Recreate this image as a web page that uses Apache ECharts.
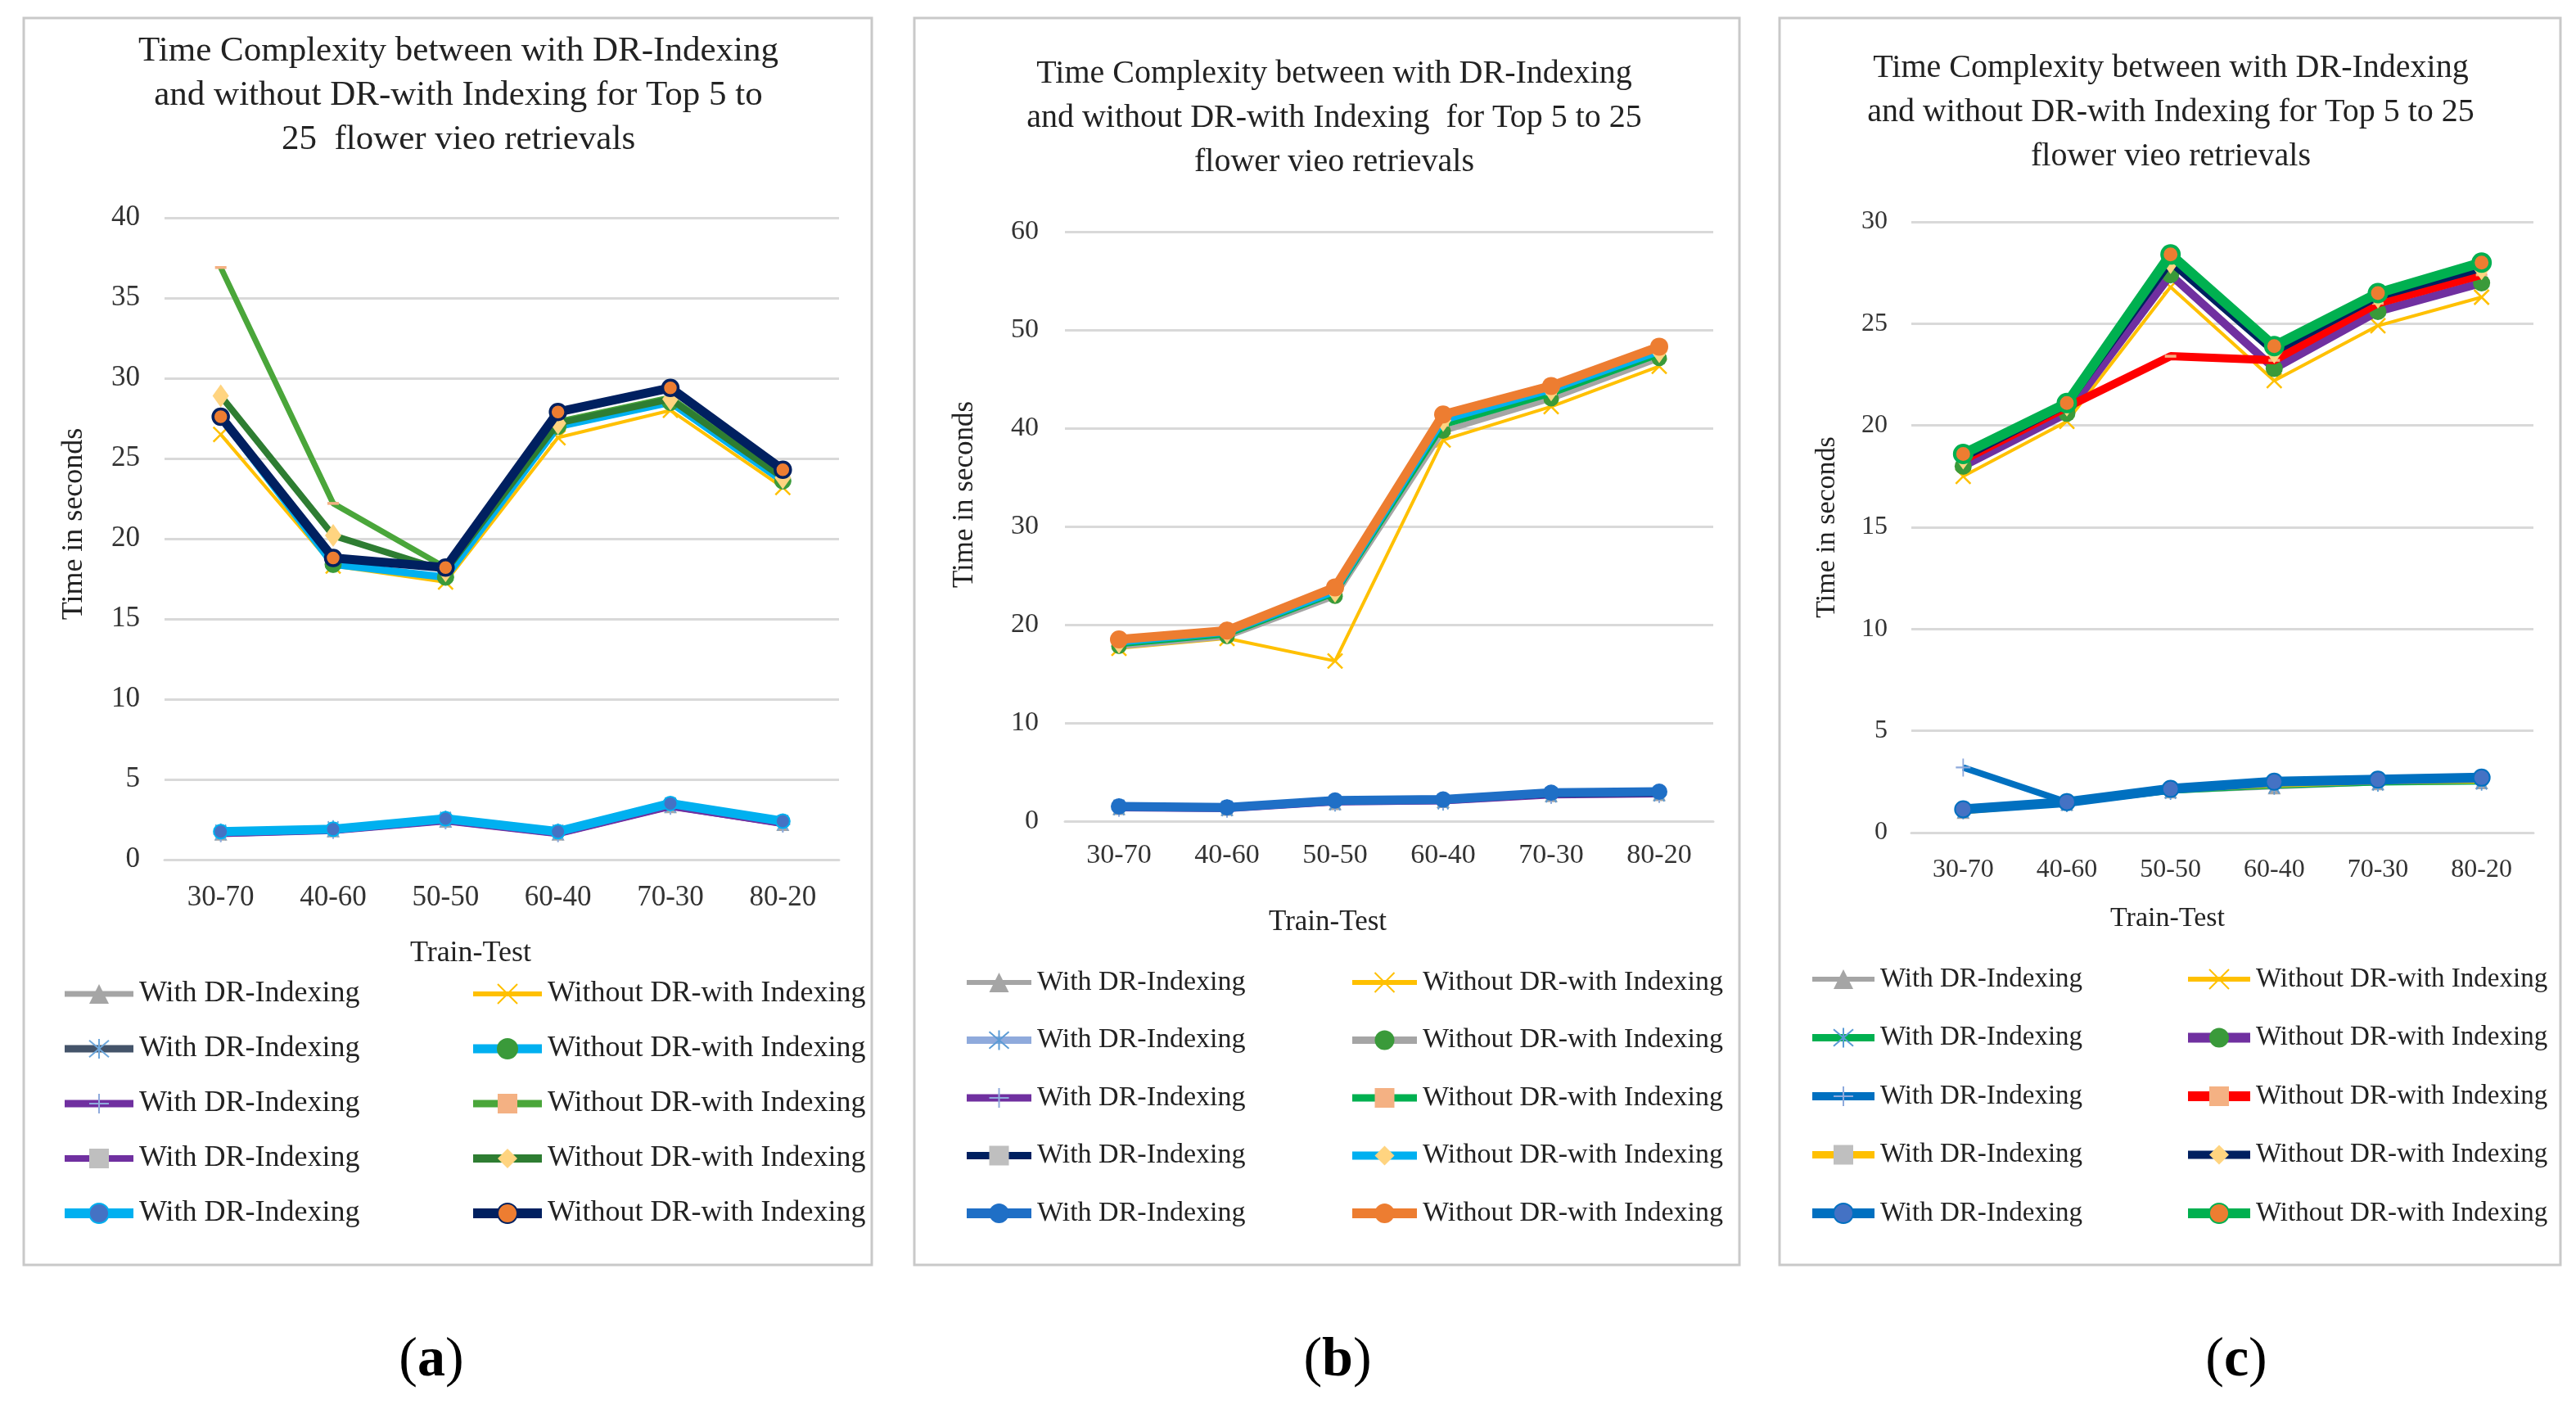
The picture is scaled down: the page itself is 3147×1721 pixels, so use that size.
<!DOCTYPE html>
<html><head><meta charset="utf-8">
<script src="https://cdn.jsdelivr.net/npm/echarts@6/dist/echarts.min.js"></script>
<style>html,body{margin:0;padding:0;background:#fff}#c{width:3147px;height:1721px}</style>
</head><body><div id="c"></div>
<script>
// ---------- data ----------
const categories = ['30-70', '40-60', '50-50', '60-40', '70-30', '80-20'];
const withName = 'With DR-Indexing';
const withoutName = 'Without DR-with Indexing';
const titleA = 'Time Complexity between with DR-Indexing\nand without DR-with Indexing for Top 5 to\n25  flower vieo retrievals';
const titleB = 'Time Complexity between with DR-Indexing\nand without DR-with Indexing  for Top 5 to 25\nflower vieo retrievals';
const titleC = 'Time Complexity between with DR-Indexing\nand without DR-with Indexing for Top 5 to 25\nflower vieo retrievals';
const yNameText = 'Time in seconds';
const xNameText = 'Train-Test';
const panelLabels = ['a', 'b', 'c'];
const yMaxA = 40, yStepA = 5;
const yMaxB = 60, yStepB = 10;
const yMaxC = 30, yStepC = 5;

// panel (a)
const aWith1 = [1.6, 1.8, 2.4, 1.6, 3.3, 2.2];
const aWithout1 = [26.5, 18.3, 17.3, 26.3, 28.0, 23.2];
const aWith2 = [1.7, 1.9, 2.5, 1.7, 3.4, 2.3];
const aWithout2 = [27.6, 18.4, 17.6, 27.0, 28.5, 23.6];
const aWith3 = [1.6, 1.8, 2.4, 1.6, 3.3, 2.2];
const aWithout3 = [36.9, 22.2, 18.2, 27.3, 28.8, 23.9];
const aWith4 = [1.55, 1.75, 2.35, 1.55, 3.25, 2.2];
const aWithout4 = [28.9, 20.2, 18.0, 27.2, 28.7, 23.8];
const aWith5 = [1.75, 1.9, 2.55, 1.75, 3.5, 2.4];
const aWithout5 = [27.6, 18.8, 18.2, 27.9, 29.4, 24.3];

// panel (b)
const bWith1 = [1.3, 1.2, 1.8, 2.0, 2.6, 2.7];
const bWithout1 = [17.6, 18.6, 16.3, 38.8, 42.2, 46.3];
const bWith2 = [1.4, 1.3, 1.9, 2.0, 2.7, 2.8];
const bWithout2 = [17.8, 18.8, 22.9, 39.7, 43.0, 47.1];
const bWith3 = [1.3, 1.2, 1.9, 2.0, 2.6, 2.7];
const bWithout3 = [18.0, 19.0, 23.2, 40.3, 43.5, 47.5];
const bWith4 = [1.4, 1.3, 2.0, 2.1, 2.7, 2.8];
const bWithout4 = [18.2, 19.2, 23.4, 40.8, 43.9, 47.8];
const bWith5 = [1.5, 1.4, 2.1, 2.2, 2.9, 3.0];
const bWithout5 = [18.5, 19.4, 23.8, 41.4, 44.3, 48.3];

// panel (c)
const cWith1 = [1.0, 1.4, 2.0, 2.2, 2.4, 2.45];
const cWithout1 = [17.5, 20.2, 26.8, 22.2, 24.9, 26.3];
const cWith2 = [1.1, 1.45, 2.05, 2.3, 2.45, 2.5];
const cWithout2 = [18.0, 20.6, 27.4, 22.8, 25.6, 27.0];
const cWith3 = [3.2, 1.5, 2.1, 2.45, 2.55, 2.65];
const cWithout3 = [18.3, 20.9, 23.4, 23.2, 26.0, 27.4];
const cWith4 = [1.05, 1.45, 2.1, 2.35, 2.5, 2.55];
const cWithout4 = [18.4, 21.0, 28.0, 23.6, 26.3, 27.7];
const cWith5 = [1.15, 1.5, 2.15, 2.5, 2.6, 2.7];
const cWithout5 = [18.6, 21.1, 28.4, 23.9, 26.5, 28.0];

// ---------- styles ----------
const FONT = '"Liberation Serif", "Times New Roman", serif';
const SYM = {
  tri: 'triangle',
  x: 'path://M0,0L10,10M10,0L0,10',
  star: 'path://M0,0L10,12M10,0L0,12M5,-1L5,13',
  plus: 'path://M5,0L5,10M0,5L10,5',
  dash: 'path://M0,0L10,0L10,5L0,5Z',
  circle: 'circle',
  diamond: 'diamond'
};
const T = 'rgba(0,0,0,0)';
function st(line, w, sym, size, fill, stroke, bw) {
  return { line, w, sym, size, fill, stroke: stroke || fill, bw: bw || 0 };
}
const panels = [
  {
    title: titleA, titleX: 560, titleTop: 36, titleSize: 43,
    grid: { left: 201, top: 266, width: 824, height: 784 },
    yMax: yMaxA, yStep: yStepA, tick: 35, yMargin: 30, xMargin: 29,
    yGap: 92, yPad: [0, 0, 0, 36], xGap: 97, xPad: [0, 76, 0, 0], nameSize: 36,
    legL: 73, legR: 572, legTop: 1194, legGap: 27, legW: 84, legFont: 36,
    series: [
      [aWith1, st('#A5A5A5', 5, SYM.tri, 16, '#A5A5A5')],
      [aWithout1, st('#FFC000', 4, SYM.x, [18, 18], T, '#FFC000', 2.5)],
      [aWith2, st('#44546A', 7, SYM.star, [18, 22], T, '#6FA8DC', 2)],
      [aWithout2, st('#00B0F0', 9, SYM.circle, 20, '#3A9A3A', '#3A9A3A', 1)],
      [aWith3, st('#7030A0', 7, SYM.plus, [18, 20], T, '#8FAADC', 2)],
      [aWithout3, st('#4AA63A', 7, SYM.dash, [14, 7], '#F4B183')],
      [aWith4, st('#7030A0', 6, SYM.dash, [14, 7], '#BFBFBF')],
      [aWithout4, st('#2E7D32', 8, SYM.diamond, [20, 28], '#FFD480')],
      [aWith5, st('#00B0F0', 11, SYM.circle, 17, '#4472C4', '#00B0F0', 2)],
      [aWithout5, st('#002060', 11, SYM.circle, 19, '#ED7D31', '#002060', 3.5)]
    ]
  },
  {
    title: titleB, titleX: 1630, titleTop: 63, titleSize: 40,
    grid: { left: 1301, top: 283, width: 792, height: 720 },
    yMax: yMaxB, yStep: yStepB, tick: 34, yMargin: 32, xMargin: 25,
    yGap: 105, yPad: [0, 0, 0, 78], xGap: 106, xPad: [0, 150, 0, 0], nameSize: 35,
    legL: 1175, legR: 1646, legTop: 1180, legGap: 30.5, legW: 79, legFont: 34,
    series: [
      [bWith1, st('#A5A5A5', 4, SYM.tri, 16, '#A5A5A5')],
      [bWithout1, st('#FFC000', 4, SYM.x, [18, 18], T, '#FFC000', 2.5)],
      [bWith2, st('#8FAADC', 7, SYM.star, [18, 22], T, '#5B9BD5', 2)],
      [bWithout2, st('#A5A5A5', 7, SYM.circle, 19, '#3A9A3A')],
      [bWith3, st('#7030A0', 7, SYM.plus, [18, 20], T, '#8FAADC', 2)],
      [bWithout3, st('#00B050', 7, SYM.dash, [14, 7], '#F4B183')],
      [bWith4, st('#002060', 7, SYM.dash, [14, 7], '#BFBFBF')],
      [bWithout4, st('#00B0F0', 8, SYM.diamond, [20, 28], '#FFD480')],
      [bWith5, st('#1F6FC6', 11, SYM.circle, 20, '#1F6FC6')],
      [bWithout5, st('#ED7D31', 11, SYM.circle, 22, '#ED7D31')]
    ]
  },
  {
    title: titleC, titleX: 2652, titleTop: 56, titleSize: 40,
    grid: { left: 2335, top: 271, width: 760, height: 746 },
    yMax: yMaxC, yStep: yStepC, tick: 32, yMargin: 29, xMargin: 30,
    yGap: 86, yPad: [0, 0, 0, 0], xGap: 88, xPad: [0, 134, 0, 0], nameSize: 34,
    legL: 2208, legR: 2667, legTop: 1176, legGap: 31.5, legW: 76, legFont: 33,
    series: [
      [cWith1, st('#A5A5A5', 4, SYM.tri, 16, '#A5A5A5')],
      [cWithout1, st('#FFC000', 4, SYM.x, [18, 18], T, '#FFC000', 2.5)],
      [cWith2, st('#00B050', 7, SYM.star, [18, 22], T, '#5B9BD5', 2)],
      [cWithout2, st('#7030A0', 10, SYM.circle, 21, '#3A9A3A')],
      [cWith3, st('#0070C0', 8, SYM.plus, [18, 22], T, '#8FAADC', 2)],
      [cWithout3, st('#FF0000', 10, SYM.dash, [14, 7], '#F4B183')],
      [cWith4, st('#FFC000', 7, SYM.dash, [14, 7], '#BFBFBF')],
      [cWithout4, st('#002060', 8, SYM.diamond, [20, 28], '#FFD480')],
      [cWith5, st('#0070C0', 12, SYM.circle, 20, '#4472C4', '#0070C0', 2)],
      [cWithout5, st('#00B050', 12, SYM.circle, 21, '#ED7D31', '#00B050', 4)]
    ]
  }
];

// ---------- build option ----------
const option = {
  backgroundColor: '#fff', animation: false,
  title: [], grid: [], xAxis: [], yAxis: [], legend: [], series: [], graphic: []
};
const stripName = n => n.replace(/ #\d+$/, '');

panels.forEach((p, pi) => {
  option.title.push({
    text: p.title, left: p.titleX, top: p.titleTop, textAlign: 'center', padding: 0,
    textStyle: { fontFamily: FONT, fontSize: p.titleSize, lineHeight: 54, fontWeight: 'normal', color: '#222' }
  });
  option.grid.push(Object.assign({ containLabel: false }, p.grid));
  option.xAxis.push({
    gridIndex: pi, type: 'category', data: categories, boundaryGap: true,
    axisLine: { lineStyle: { color: '#D9D9D9', width: 3 } }, axisTick: { show: false },
    axisLabel: { fontFamily: FONT, fontSize: p.tick, color: '#333', margin: p.xMargin },
    name: xNameText, nameLocation: 'middle', nameGap: p.xGap,
    nameTextStyle: { fontFamily: FONT, fontSize: p.nameSize, color: '#222', padding: p.xPad }
  });
  option.yAxis.push({
    gridIndex: pi, type: 'value', min: 0, max: p.yMax, interval: p.yStep,
    axisLine: { show: false }, axisTick: { show: false },
    splitLine: { lineStyle: { color: '#D9D9D9', width: 3 } },
    axisLabel: { fontFamily: FONT, fontSize: p.tick, color: '#333', margin: p.yMargin },
    name: yNameText, nameLocation: 'middle', nameGap: p.yGap,
    nameTextStyle: { fontFamily: FONT, fontSize: p.nameSize, color: '#222', padding: p.yPad }
  });
  const leftData = [], rightData = [];
  p.series.forEach((entry, si) => {
    const data = entry[0], s = entry[1];
    const isWith = si % 2 === 0;
    const name = (isWith ? withName : withoutName) + ' #' + (pi * 10 + si);
    option.series.push({
      type: 'line', name, data, xAxisIndex: pi, yAxisIndex: pi,
      symbol: s.sym, symbolSize: s.size, symbolKeepAspect: true, showAllSymbol: true,
      lineStyle: { color: s.line, width: s.w },
      itemStyle: { color: s.fill, borderColor: s.stroke, borderWidth: s.bw },
      emphasis: { disabled: true }, z: 2 + si * 0.1
    });
    const item = { name, lineStyle: { width: Math.min(s.w + 2, 12), color: s.line } };
    (isWith ? leftData : rightData).push(item);
  });
  [[p.legL, leftData], [p.legR, rightData]].forEach(([lx, d]) => {
    option.legend.push({
      orient: 'vertical', left: lx, top: p.legTop, padding: 0,
      itemGap: p.legGap, itemWidth: p.legW, itemHeight: 30, selectedMode: false,
      data: d, formatter: stripName,
      textStyle: { fontFamily: FONT, fontSize: p.legFont, lineHeight: 40, color: '#222', padding: [0, 0, 0, 2] }
    });
  });
});

// panel frames and sub-figure labels
const frames = [[29, 22, 1036, 1523], [1117, 22, 1008, 1523], [2174, 22, 954, 1523]];
const labelX = [527, 1634, 2732];
frames.forEach((f, i) => {
  option.graphic.push({
    type: 'rect', shape: { x: f[0], y: f[1], width: f[2], height: f[3] },
    style: { fill: 'none', stroke: '#C9C9C9', lineWidth: 3 }, silent: true, z: -1
  });
  option.graphic.push({
    type: 'text', x: labelX[i], y: 1662,
    style: {
      text: '{p|(}{b|' + panelLabels[i] + '}{p|)}', align: 'center', verticalAlign: 'middle',
      rich: {
        p: { fontFamily: FONT, fontSize: 68, fill: '#000' },
        b: { fontFamily: FONT, fontSize: 68, fontWeight: 'bold', fill: '#000' }
      }
    }
  });
});

const chart = echarts.init(document.getElementById('c'), null, { renderer: 'canvas' });
chart.setOption(option);
</script></body></html>
